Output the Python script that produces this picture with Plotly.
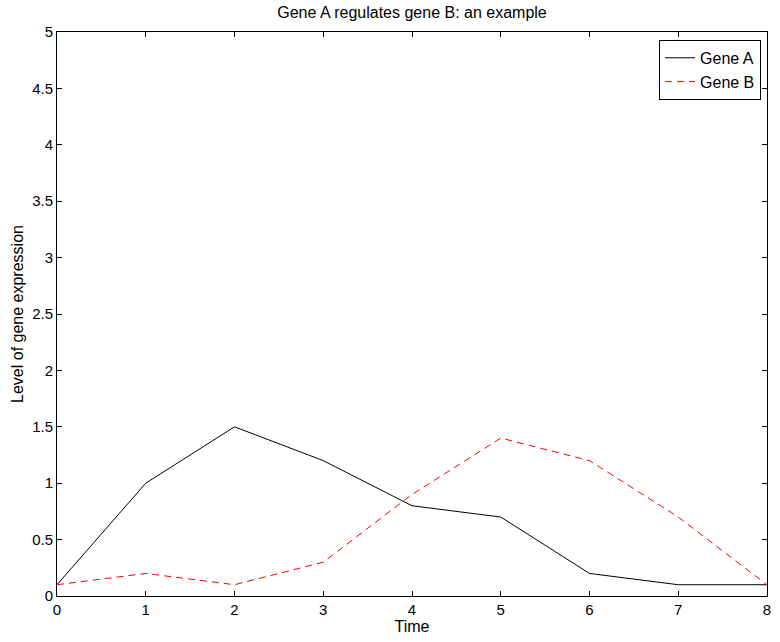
import plotly.graph_objects as go

time = [0, 1, 2, 3, 4, 5, 6, 7, 8]
gene_a = [0.1, 1.0, 1.5, 1.2, 0.8, 0.7, 0.2, 0.1, 0.1]
gene_b = [0.1, 0.2, 0.1, 0.3, 0.9, 1.4, 1.2, 0.7, 0.1]
y_ticks = [0, 0.5, 1, 1.5, 2, 2.5, 3, 3.5, 4, 4.5, 5]
y_tick_labels = ["0", "0.5", "1", "1.5", "2", "2.5", "3", "3.5", "4", "4.5", "5"]

fig = go.Figure()
fig.add_trace(go.Scatter(x=time, y=gene_a, mode="lines", name="Gene A",
                         line=dict(color="black", width=1)))
fig.add_trace(go.Scatter(x=time, y=gene_b, mode="lines", name="Gene B",
                         line=dict(color="red", width=1, dash="7px,5px")))

axis_common = dict(showline=True, linecolor="black", linewidth=1, mirror="ticks",
                   ticks="inside", ticklen=5, tickcolor="black", showgrid=False,
                   zeroline=False, tickfont=dict(size=15, color="black"))

fig.update_layout(
    width=780, height=642,
    margin=dict(l=57, r=9, t=32, b=46),
    paper_bgcolor="white", plot_bgcolor="white",
    font=dict(family="Liberation Sans, Arial, sans-serif", size=16, color="black"),
    title=dict(text="Gene A regulates gene B: an example", xref="paper", x=0.5,
               xanchor="center", y=1 - 12 / 642, yanchor="middle", font=dict(size=16)),
    xaxis=dict(range=[0, 8], tickvals=time, title=dict(text="Time", standoff=2,
               font=dict(size=16)), **axis_common),
    yaxis=dict(range=[0, 5], tickvals=y_ticks, ticktext=y_tick_labels,
               title=dict(text="Level of gene expression", standoff=4,
                          font=dict(size=16)), **axis_common),
    legend=dict(x=0.9916, y=0.986, xanchor="right", yanchor="top",
                bordercolor="black", borderwidth=1, bgcolor="white",
                font=dict(size=16), tracegroupgap=0, itemwidth=30),
    showlegend=True,
)

fig.write_html("out.html")
